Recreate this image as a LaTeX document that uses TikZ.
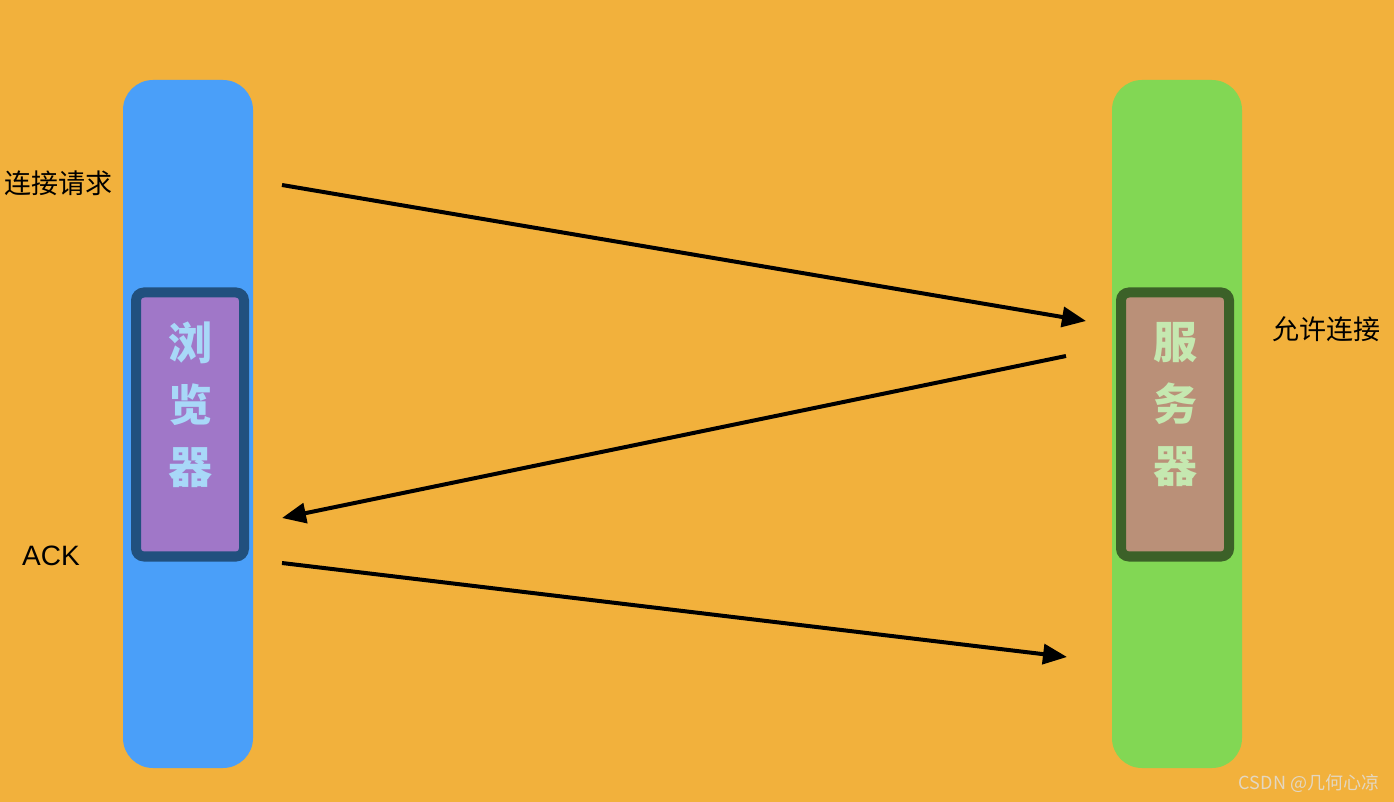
\documentclass[tikz,border=0pt]{standalone}
\usepackage{fontspec}
\setmainfont{Liberation Sans}
\newfontfamily\cjk{Noto Sans CJK SC}
\usetikzlibrary{arrows.meta}
\definecolor{bgOrange}{HTML}{F2B13C}
\definecolor{barBlue}{HTML}{4A9FF9}
\definecolor{barGreen}{HTML}{82D754}
\definecolor{boxBlue}{HTML}{21507E}
\definecolor{boxPurple}{HTML}{A077C8}
\definecolor{boxGreen}{HTML}{3C6128}
\definecolor{boxBrown}{HTML}{BA9078}
\definecolor{textBlue}{HTML}{A8D8F8}
\definecolor{textGreen}{HTML}{C5E8B0}
\newcommand{\sideScale}[0]{0.5pt}

\begin{document}
\begin{tikzpicture}[x=\sideScale, y=-\sideScale]
  \tikzset{bar/.style={minimum width=65pt,minimum height=344pt,rounded corners=15pt,inner sep=0pt},
    tag/.style={line width=5pt,rounded corners=4pt,minimum width=54pt,minimum height=132pt,inner sep=0pt},
    sidename/.style={align=center,font=\cjk\bfseries\fontsize{22}{31}\selectfont},
    msg/.style={font=\cjk\fontsize{13.5}{16}\selectfont},
    flow/.style={line width=2pt,-{Triangle[length=12pt,width=10pt]}}}
  \useasboundingbox (0,0) rectangle (1394,802);
  \fill[bgOrange] (0,0) rectangle (1394,802);
  \node[bar,fill=barBlue] (browser) at (188,424) {};
  \node[bar,fill=barGreen] (server) at (1177,424) {};
  \node[tag,draw=boxBlue,fill=boxPurple] (browser-tag) at (190,424.5) {};
  \node[tag,draw=boxGreen,fill=boxBrown] (server-tag) at (1175,424.5) {};
  \node[sidename,text=textBlue] (browser-name) at (190,405) {浏\\览\\器};
  \node[sidename,text=textGreen] (server-name) at (1175,405) {服\\务\\器};
  \node[msg] (syn) at (58,183) {连接请求};
  \node[msg] (synack) at (1326,329) {允许连接};
  \node[font=\fontsize{14}{16}\selectfont] (ack) at (51,556) {ACK};
  \node[font=\cjk\fontsize{9}{11}\selectfont,text=white!80!bgOrange!90!black] (mark) at (1309,783) {CSDN @几何心凉};
  \coordinate (B-1) at (282,185);
  \coordinate (S-1) at (1086,321);
  \coordinate (S-2) at (1066,356);
  \coordinate (B-2) at (282,518);
  \coordinate (B-3) at (282,563);
  \coordinate (S-3) at (1067,657);
  \draw[flow] (B-1) -- (S-1);
  \draw[flow] (S-2) -- (B-2);
  \draw[flow] (B-3) -- (S-3);
\end{tikzpicture}
\end{document}
